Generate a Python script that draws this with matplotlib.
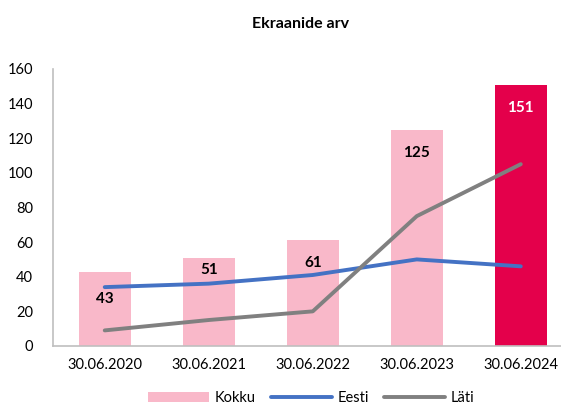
import numpy as np
import matplotlib.pyplot as plt

plt.rcParams['font.family'] = ['Lato', 'DejaVu Sans']

dates = ['30.06.2020', '30.06.2021', '30.06.2022', '30.06.2023', '30.06.2024']
kokku = [43, 51, 61, 125, 151]
eesti = [34, 36, 41, 50, 46]
lati = [9, 15, 20, 75, 105]

pink = '#f9b8c9'
red = '#e4004b'
blue = '#4472c4'
grey = '#808080'

fig = plt.figure(figsize=(5.61, 4.08), dpi=100)
ax = fig.add_axes([0.094, 0.152, 0.927, 0.679])

x = np.arange(len(dates))
colors = [pink] * (len(dates) - 1) + [red]
ax.bar(x, kokku, width=0.5, color=colors, label='Kokku', zorder=1)
ax.plot(x, eesti, color=blue, lw=2.8, label='Eesti', zorder=2, solid_capstyle='round')
ax.plot(x, lati, color=grey, lw=2.8, label='Läti', zorder=2, solid_capstyle='round')

# label offsets below bar top (pts), the 2021 one sits higher to clear the line
offs = [-20, -9, -16, -17, -17]
for i, v in enumerate(kokku):
    c = 'white' if i == len(kokku) - 1 else 'black'
    ax.annotate(str(v), (x[i], v), xytext=(0, offs[i]), textcoords='offset points',
                ha='center', va='center', fontsize=11, fontweight='bold', color=c, zorder=3)

ax.set_xlim(-0.5, 4.5)
ax.set_ylim(0, 160)
ax.set_yticks(np.arange(0, 161, 20))
ax.set_xticks(x)
ax.set_xticklabels(dates)
ax.tick_params(length=0, labelsize=10.5, pad=9)
ax.tick_params(axis='y', pad=14)
for s in ['top', 'right']:
    ax.spines[s].set_visible(False)
ax.spines['left'].set_color('#bfbfbf')
ax.spines['bottom'].set_color('#bfbfbf')
ax.spines['left'].set_linewidth(1.2)
ax.spines['bottom'].set_linewidth(1.2)

fig.text(0.536, 0.94, 'Ekraanide arv', ha='center', va='center', fontsize=11.5, fontweight='bold')
h, l = ax.get_legend_handles_labels()
order = [2, 0, 1]
fig.legend([h[i] for i in order], [l[i] for i in order], loc='center',
           bbox_to_anchor=(0.555, 0.025), ncol=3, frameon=False,
           fontsize=10.5, handlelength=4.2, columnspacing=1.0, handletextpad=0.4)

fig.savefig('out.png', dpi=100)
